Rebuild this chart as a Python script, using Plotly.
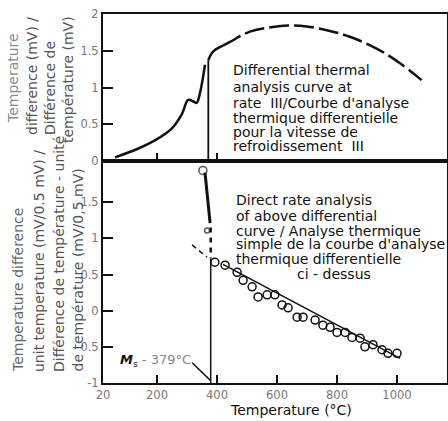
import plotly.graph_objects as go

# ---------------- data ----------------
# Top panel: differential thermal analysis curve (mV)
dta_low_T = [60, 138, 193, 249, 282, 304, 321, 332, 343, 360]
dta_low_v = [0.05, 0.17, 0.28, 0.44, 0.63, 0.83, 0.81, 0.79, 0.92, 1.31]
dta_jump_T = [371, 371]
dta_jump_v = [0.0, 1.37]
dta_high_solid_T = [371, 380, 393, 420]
dta_high_solid_v = [1.37, 1.45, 1.51, 1.57]
dta_high_dash_T = [420, 443, 510, 599, 677, 766, 843, 932, 1010, 1082]
dta_high_dash_v = [1.57, 1.62, 1.76, 1.83, 1.84, 1.78, 1.69, 1.53, 1.33, 1.10]

# Bottom panel: direct rate analysis (temperature-difference per unit temperature)
rate_T = [393, 427, 467, 487, 517, 537, 567, 593, 617, 637, 667, 687, 727, 753,
          777, 800, 827, 850, 877, 893, 920, 950, 970, 1000]
rate_v = [0.67, 0.63, 0.53, 0.42, 0.33, 0.19, 0.22, 0.22, 0.08, 0.04, -0.09, -0.09,
          -0.13, -0.20, -0.23, -0.30, -0.30, -0.37, -0.38, -0.50, -0.47, -0.54, -0.59, -0.59]
fit_T = [420, 1010]
fit_v = [0.64, -0.66]
drop_T = [360, 377]
drop_v = [1.91, 1.21]
drop_circle_T = [353, 367]
drop_circle_v = [1.94, 1.11]
ms_temp = 379
ms_dash_v = [1.15, 0.72]
ms_solid_v = [0.72, -1.0]
diag_T = [317, 367]
diag_v = [0.91, 0.74]
leader_T = [317, 377]
leader_v = [-0.72, -0.96]

x_ticks = [20, 200, 400, 600, 800, 1000]
x_labels = ["20", "200", "400", "600", "800", "1000"]
top_ticks = [0, 0.5, 1, 1.5, 2]
top_labels = ["0", "0.5", "1", "1.5", "2"]
bot_ticks = [-1, -0.5, 0, 0.5, 1, 1.5]
bot_labels = ["-1", "-0.5", "0", "0.5", "1", "1.5"]

# ---------------- layout geometry ----------------
W, H = 448, 421
L, R, T, B = 103, 1, 14, 38
PW, PH = W - L - R, H - T - B
DIV = 161  # pixel row of the panel divider
split = (H - B - DIV) / PH

def px(xp):
    return (xp - L) / PW

def py(yp):
    return (H - B - yp) / PH

BLACK = "#111111"
FONT = "DejaVu Sans"

fig = go.Figure()

fig.add_trace(go.Scatter(x=dta_low_T, y=dta_low_v, mode="lines", line=dict(color=BLACK, width=2.5, shape="spline"),
                         xaxis="x2", yaxis="y2"))
fig.add_trace(go.Scatter(x=dta_jump_T, y=dta_jump_v, mode="lines", line=dict(color=BLACK, width=1.8),
                         xaxis="x2", yaxis="y2"))
fig.add_trace(go.Scatter(x=dta_high_solid_T, y=dta_high_solid_v, mode="lines",
                         line=dict(color=BLACK, width=2.5, shape="spline"), xaxis="x2", yaxis="y2"))
fig.add_trace(go.Scatter(x=dta_high_dash_T, y=dta_high_dash_v, mode="lines",
                         line=dict(color=BLACK, width=2.5, shape="spline", dash="20px,5px"),
                         xaxis="x2", yaxis="y2"))

# bottom panel
fig.add_trace(go.Scatter(x=fit_T, y=fit_v, mode="lines", line=dict(color=BLACK, width=1.5)))
fig.add_trace(go.Scatter(x=rate_T, y=rate_v, mode="markers",
                         marker=dict(symbol="circle-open", size=8, color=BLACK, line=dict(width=1.5))))
fig.add_trace(go.Scatter(x=drop_T, y=drop_v, mode="lines", line=dict(color=BLACK, width=3)))
fig.add_trace(go.Scatter(x=drop_circle_T, y=drop_circle_v, mode="markers",
                         marker=dict(symbol="circle-open", size=[8, 5], color=BLACK, line=dict(width=1.5))))
fig.add_trace(go.Scatter(x=[ms_temp, ms_temp], y=ms_dash_v, mode="lines",
                         line=dict(color=BLACK, width=2.5, dash="5px,5px")))
fig.add_trace(go.Scatter(x=[ms_temp, ms_temp], y=ms_solid_v, mode="lines", line=dict(color=BLACK, width=1.5)))
fig.add_trace(go.Scatter(x=diag_T, y=diag_v, mode="lines", line=dict(color=BLACK, width=1.5, dash="5px,4px")))
fig.add_trace(go.Scatter(x=leader_T, y=leader_v, mode="lines", line=dict(color=BLACK, width=1.5)))

x_range = [20, 20 + PW / 0.3]
axis_common = dict(showline=True, linecolor=BLACK, linewidth=2, mirror=True, ticks="inside",
                   tickcolor=BLACK, tickwidth=1.5, showgrid=False, zeroline=False,
                   tickfont=dict(family=FONT, size=11.5, color="#777777"))

fig.update_layout(
    width=W, height=H, margin=dict(l=L, r=R, t=T, b=B, autoexpand=False),
    paper_bgcolor="white", plot_bgcolor="white", showlegend=False,
    xaxis=dict(range=x_range, tickvals=x_ticks, ticktext=x_labels, ticklen=8, anchor="y", **axis_common),
    yaxis=dict(domain=[0, split], range=[-1, 2.07], tickvals=bot_ticks, ticktext=bot_labels,
               ticklen=10, anchor="x", **axis_common),
    xaxis2=dict(range=x_range, tickvals=[200, 400], showticklabels=False, ticklen=8, anchor="y2",
                matches="x", **axis_common),
    yaxis2=dict(domain=[split, 1], range=[0, 2], tickvals=top_ticks, ticktext=top_labels,
                ticklen=10, anchor="x2", **axis_common),
)

ann = []
def text(s, xp, yp, size=14, color=BLACK, xanchor="left", yanchor="middle", angle=0):
    ann.append(dict(text=s, x=px(xp), y=py(yp), xref="paper", yref="paper", showarrow=False,
                    xanchor=xanchor, yanchor=yanchor, textangle=angle,
                    font=dict(family=FONT, size=size, color=color)))

top_lines = ["Differential thermal", "analysis curve at", "rate  III/Courbe d'analyse",
             "thermique differentielle", "pour la vitesse de", "refroidissement  III"]
top_y = [70, 87, 103, 118, 132, 146]
for s, yy in zip(top_lines, top_y):
    text(s, 231, yy)

bot_lines = ["Direct rate analysis", "of above differential", "curve / Analyse thermique",
             "simple de la courbe d'analyse", "thermique differentielle"]
bot_y = [200, 216, 230.5, 244, 258.5]
for s, yy in zip(bot_lines, bot_y):
    text(s, 234, yy)
text("ci - dessus", 334, 274, xanchor="center")

text("<b><i>M</i></b><sub>s</sub> <span style='color:#888'>- 379°C</span>", 118, 360, size=13)
text("Temperature (°C)", 291, 410, size=14, xanchor="center")

# left axis titles (rotated)
top_title = [("Temperature", 13, 78, "#8a8a8a"), ("difference (mV) /", 32, 76, "#555555"),
             ("Différence de", 50, 88, "#555555"), ("température (mV)", 68, 80, "#555555")]
for s, xx, yy, c in top_title:
    text(s, xx, yy, size=14, color=c, xanchor="center", yanchor="middle", angle=-90)

bot_title = [("Temperature difference", 18, "#666666"), ("unit temperature (mV/0.5 mV) /", 39, "#555555"),
             ("Différence de température - unité", 59, "#555555"), ("de température (mV/0,5 mV)", 77, "#555555")]
for s, xx, c in bot_title:
    text(s, xx, 374, size=14, color=c, xanchor="center", yanchor="bottom", angle=-90)

fig.update_layout(annotations=ann)
fig.write_html("out.html", config={"displayModeBar": False},
               post_script="document.body.style.margin='0';")
